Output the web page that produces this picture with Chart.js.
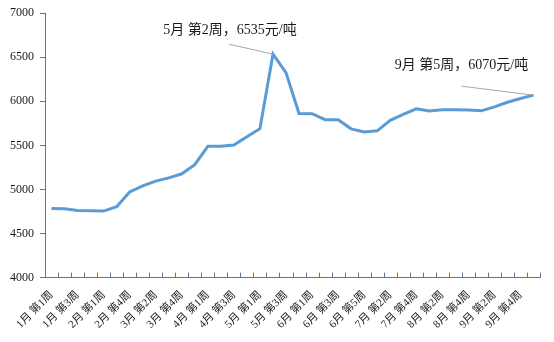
<!DOCTYPE html>
<html>
<head>
<meta charset="utf-8">
<script src="https://cdn.jsdelivr.net/npm/chart.js@4.4.1/dist/chart.umd.min.js"></script>
<style>
  html, body { margin: 0; padding: 0; background: #fff; }
  #wrap { width: 554px; height: 342px; }
</style>
</head>
<body>
<div id="wrap"><canvas id="myChart"></canvas></div>
<script>
const weeks = [
  '1月 第1周', '1月 第2周', '1月 第3周', '1月 第4周',
  '2月 第1周', '2月 第2周', '2月 第4周',
  '3月 第1周', '3月 第2周', '3月 第3周', '3月 第4周', '3月 第5周',
  '4月 第1周', '4月 第2周', '4月 第3周', '4月 第4周',
  '5月 第1周', '5月 第2周', '5月 第3周', '5月 第4周',
  '6月 第1周', '6月 第2周', '6月 第3周', '6月 第4周', '6月 第5周',
  '7月 第1周', '7月 第2周', '7月 第3周', '7月 第4周',
  '8月 第1周', '8月 第2周', '8月 第3周', '8月 第4周',
  '9月 第1周', '9月 第2周', '9月 第3周', '9月 第4周', '9月 第5周'
];
const prices = [
  4785, 4780, 4762, 4760, 4755, 4805, 4972,
  5042, 5095, 5132, 5178, 5282,
  5490, 5490, 5505, 5598,
  5690, 6535, 6325, 5862,
  5860, 5792, 5790, 5688, 5652,
  5665, 5785, 5852, 5915,
  5890, 5905, 5905, 5902,
  5892, 5937, 5990, 6032, 6070
];
const yTicks = [4000, 4500, 5000, 5500, 6000, 6500, 7000];
const callouts = [
  { index: 17, text: '5月 第2周，6535元/吨', dx: -44, dy: -10, tx: -43, ty: -24 },
  { index: 37, text: '9月 第5周，6070元/吨', dx: -72, dy: -9, tx: -72, ty: -30 }
];

const axisColor = '#4f7aa6';
const font = "'Liberation Serif', 'Noto Sans CJK SC', serif";

// x axis tick marks pointing into the plot, between categories
const innerTicks = {
  id: 'innerTicks',
  afterDraw(chart) {
    const ctx = chart.ctx;
    const x = chart.scales.x;
    const step = (x.right - x.left) / weeks.length;
    ctx.save();
    ctx.strokeStyle = axisColor;
    ctx.lineWidth = 1;
    ctx.beginPath();
    for (let i = 0; i <= weeks.length; i++) {
      const px = Math.round(x.left + i * step) + 0.5;
      ctx.moveTo(px, x.top);
      ctx.lineTo(px, x.top - 5);
    }
    ctx.stroke();
    ctx.restore();
  }
};

const calloutLabels = {
  id: 'calloutLabels',
  afterDatasetsDraw(chart) {
    const ctx = chart.ctx;
    const meta = chart.getDatasetMeta(0);
    ctx.save();
    callouts.forEach(c => {
      const pt = meta.data[c.index];
      ctx.strokeStyle = '#a6a6a6';
      ctx.lineWidth = 1;
      ctx.beginPath();
      ctx.moveTo(pt.x + c.dx, pt.y + c.dy);
      ctx.lineTo(pt.x, pt.y);
      ctx.stroke();
      ctx.fillStyle = '#1a1a1a';
      ctx.font = "14px " + font;
      ctx.textAlign = 'center';
      ctx.textBaseline = 'middle';
      ctx.fillText(c.text, pt.x + c.tx, pt.y + c.ty);
    });
    ctx.restore();
  }
};

new Chart(document.getElementById('myChart'), {
  type: 'line',
  data: {
    labels: weeks,
    datasets: [{
      data: prices,
      borderColor: '#5b9bd5',
      borderWidth: 3,
      pointRadius: 0,
      tension: 0,
      fill: false
    }]
  },
  options: {
    responsive: true,
    maintainAspectRatio: false,
    animation: false,
    layout: { padding: { top: 0, right: 12, left: 4, bottom: 0 } },
    plugins: {
      legend: { display: false },
      tooltip: { enabled: false }
    },
    scales: {
      x: {
        offset: true,
        grid: { display: false, drawTicks: false },
        border: { display: true, color: axisColor, width: 1 },
        ticks: {
          autoSkip: false,
          maxRotation: 45,
          minRotation: 45,
          padding: 11,
          color: '#1a1a1a',
          font: { family: font, size: 11 },
          callback: (v, i) => (i % 2 === 0 ? weeks[i] : '')
        }
      },
      y: {
        min: 4000,
        max: 7000,
        afterBuildTicks: axis => { axis.ticks = yTicks.map(v => ({ value: v })); },
        grid: { drawOnChartArea: false, drawTicks: true, tickLength: 5, color: axisColor },
        border: { display: true, color: axisColor, width: 1 },
        ticks: {
          padding: 6,
          color: '#1a1a1a',
          font: { family: font, size: 12 },
          callback: v => String(v)
        }
      }
    }
  },
  plugins: [innerTicks, calloutLabels]
});
</script>
</body>
</html>
